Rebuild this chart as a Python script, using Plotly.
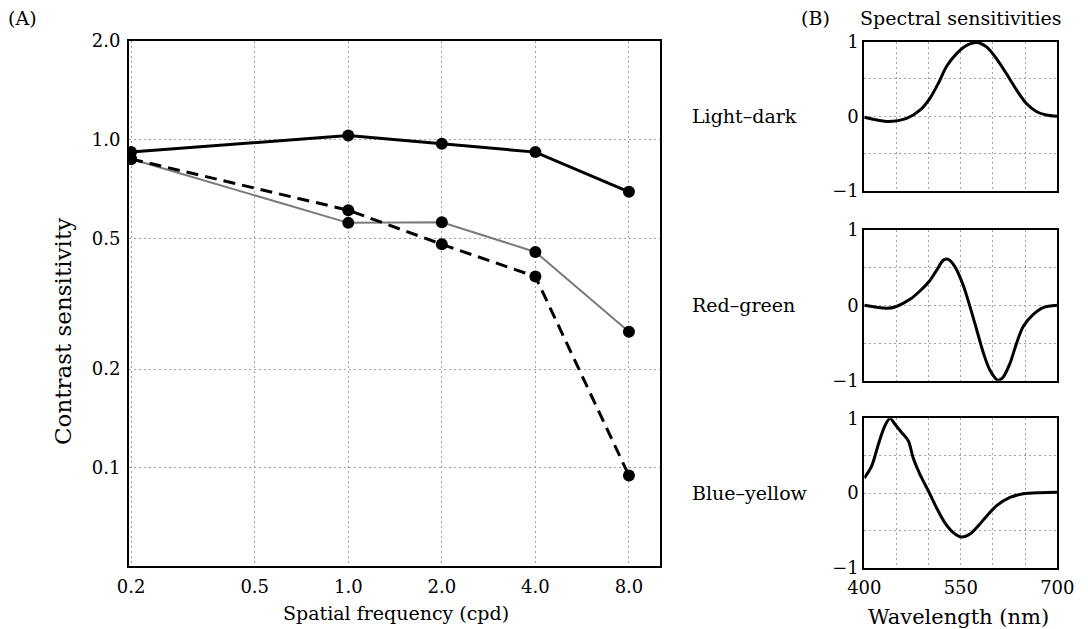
import math
import plotly.graph_objects as go

# ---- Panel A: contrast sensitivity ----
freq = [0.2, 1.0, 2.0, 4.0, 8.0]
light_dark_cs = [0.917, 1.03, 0.972, 0.917, 0.694]
red_green_cs = [0.874, 0.558, 0.56, 0.455, 0.26]
blue_yellow_cs = [0.874, 0.61, 0.48, 0.383, 0.0947]
freq_ticks = [0.2, 0.5, 1.0, 2.0, 4.0, 8.0]
freq_ticktext = ["0.2", "0.5", "1.0", "2.0", "4.0", "8.0"]
cs_ticks = [0.1, 0.2, 0.5, 1.0, 2.0]
cs_ticktext = ["0.1", "0.2", "0.5", "1.0", "2.0"]

# ---- Panel B: spectral sensitivities ----
ld_nm = [400, 434.7, 465.8, 486.5, 502, 515, 528, 543.5, 559, 574.6, 590, 605.7, 621, 636.8, 652, 668, 683, 700]
ld_val = [-0.015, -0.07, -0.03, 0.08, 0.24, 0.44, 0.67, 0.84, 0.95, 0.99, 0.93, 0.77, 0.57, 0.35, 0.17, 0.06, 0.016, 0.0]
rg_nm = [400, 434.7, 450, 471, 486.5, 502, 512, 523, 530.6, 541, 554, 564, 574.6, 585, 595.3, 608, 616, 626.4, 636.8, 647, 662.7, 678, 700]
rg_val = [0.0, -0.04, -0.015, 0.08, 0.19, 0.33, 0.46, 0.6, 0.61, 0.51, 0.26, -0.01, -0.32, -0.63, -0.86, -0.995, -0.95, -0.77, -0.5, -0.28, -0.12, -0.03, 0.0]
by_nm = [400, 411.4, 421.8, 432, 440, 447.7, 458, 468.4, 476, 486.5, 499.5, 512.4, 525.4, 538.3, 551.3, 564.3, 577.2, 590, 605.7, 626.4, 647.2, 673, 700]
by_val = [0.2, 0.36, 0.65, 0.9, 1.0, 0.92, 0.81, 0.70, 0.47, 0.25, 0.03, -0.20, -0.40, -0.53, -0.59, -0.55, -0.44, -0.31, -0.17, -0.06, -0.01, 0.005, 0.01]
nm_ticks = [400, 450, 500, 550, 600, 650, 700]
nm_ticktext = ["400", "", "", "550", "", "", "700"]
sens_ticks = [-1, -0.5, 0, 0.5, 1]
sens_ticktext = ["\u22121", "", "0", "", "1"]
channel_names = ["Light\u2013dark", "Red\u2013green", "Blue\u2013yellow"]

W, H = 1088, 629
FONT = "DejaVu Serif"
GRID = "#a0a0a0"

fig = go.Figure()

fig.add_trace(go.Scatter(x=freq, y=red_green_cs, mode="lines+markers",
                         line=dict(color="#7a7a7a", width=2),
                         marker=dict(color="black", size=12), xaxis="x", yaxis="y"))
fig.add_trace(go.Scatter(x=freq, y=blue_yellow_cs, mode="lines+markers",
                         line=dict(color="black", width=3, dash="12px,7px"),
                         marker=dict(color="black", size=12), xaxis="x", yaxis="y"))
fig.add_trace(go.Scatter(x=freq, y=light_dark_cs, mode="lines+markers",
                         line=dict(color="black", width=3),
                         marker=dict(color="black", size=12), xaxis="x", yaxis="y"))

curves = [(ld_nm, ld_val), (rg_nm, rg_val), (by_nm, by_val)]
for i, (xs, ys) in enumerate(curves):
    fig.add_trace(go.Scatter(x=xs, y=ys, mode="lines",
                             line=dict(color="black", width=3, shape="spline", smoothing=0.8),
                             xaxis="x%d" % (i + 2), yaxis="y%d" % (i + 2)))

def px_x(p):
    return p / W

def px_y(p):
    return 1 - p / H

axis_common = dict(showline=True, linecolor="black", linewidth=2, mirror=True,
                   showgrid=True, gridcolor=GRID, griddash="2px,3px", gridwidth=1,
                   zeroline=False, ticks="", automargin=False,
                   tickfont=dict(family=FONT, size=18, color="black"))

layout = dict(
    width=W, height=H, margin=dict(l=0, r=0, t=0, b=0, autoexpand=False),
    paper_bgcolor="white", plot_bgcolor="white", showlegend=False,
    xaxis=dict(type="log", domain=[px_x(129), px_x(660)],
               range=[math.log10(0.197), math.log10(10.07)], ticklabelstandoff=3,
               tickvals=freq_ticks, ticktext=freq_ticktext, anchor="y", **axis_common),
    yaxis=dict(type="log", domain=[px_y(566), px_y(41)],
               range=[math.log10(0.0502), math.log10(2.0)], ticklabelstandoff=3,
               tickvals=cs_ticks, ticktext=cs_ticktext, anchor="x", **axis_common),
)

tops = [41.7, 230, 418.3]
bottoms = [190.7, 380.7, 567.7]
for i in range(3):
    n = i + 2
    layout["xaxis%d" % n] = dict(domain=[px_x(864.3), px_x(1057.3)], range=[400, 700],
                                 tickvals=nm_ticks, ticktext=nm_ticktext, ticklabelstandoff=3,
                                 showticklabels=(i == 2), anchor="y%d" % n, **axis_common)
    layout["yaxis%d" % n] = dict(domain=[px_y(bottoms[i]), px_y(tops[i])], range=[-1, 1],
                                 tickvals=sens_ticks, ticktext=sens_ticktext,
                                 anchor="x%d" % n, **axis_common)

fig.update_layout(**layout)

def ann(text, x, y, size=19, angle=0, xanchor="center"):
    fig.add_annotation(text=text, x=px_x(x), y=px_y(y), xref="paper", yref="paper",
                       showarrow=False, xanchor=xanchor, yanchor="middle", textangle=angle,
                       font=dict(family=FONT, size=size, color="black"))

ann("(A)", 22, 18)
ann("(B)", 815, 18)
ann("Spectral sensitivities", 961, 18)
ann("Contrast sensitivity", 63, 332, size=23, angle=-90)
ann("Spatial frequency (cpd)", 396, 613)
ann("Wavelength (nm)", 958, 617, size=21)
centers = [(t + b) / 2 for t, b in zip(tops, bottoms)]
for name, cy in zip(channel_names, centers):
    ann(name, 690, cy, xanchor="left")

fig.write_html("out.html")
